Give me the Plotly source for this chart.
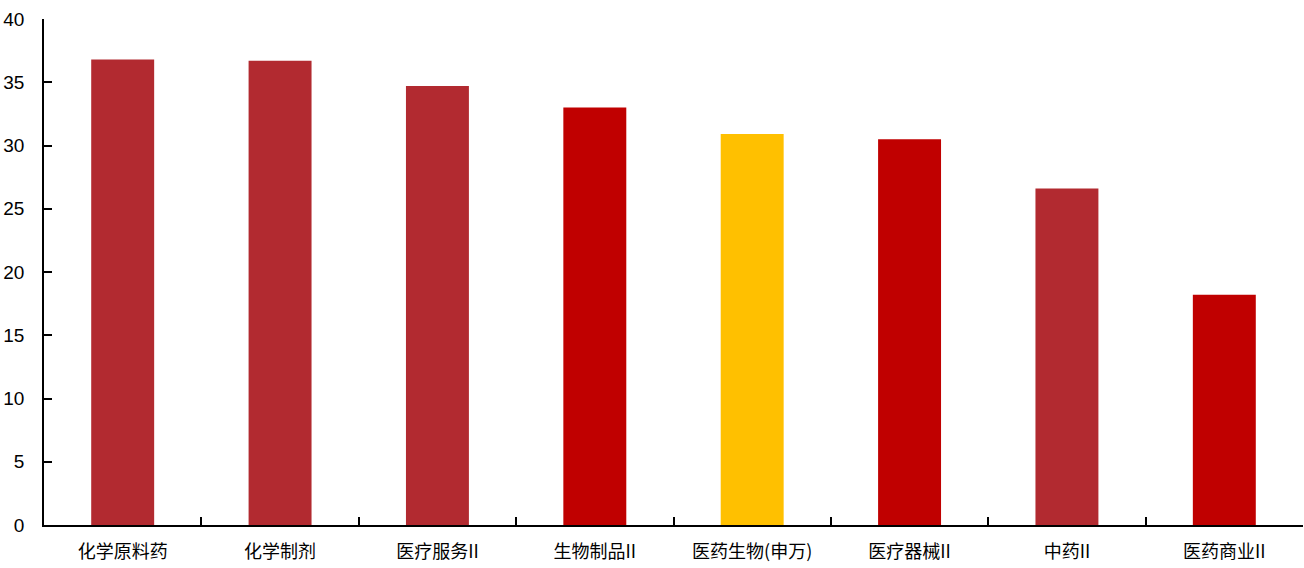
import plotly.graph_objects as go

# Sector labels and values
categories = ["化学原料药", "化学制剂", "医疗服务II", "生物制品II", "医药生物(申万)",
              "医疗器械II", "中药II", "医药商业II"]
values = [36.8, 36.7, 34.7, 33.0, 30.9, 30.5, 26.6, 18.2]
bar_colors = ["#B22A30", "#B22A30", "#B22A30", "#C00000", "#FFC000",
              "#C00000", "#B22A30", "#C00000"]
y_ticks = [0, 5, 10, 15, 20, 25, 30, 35, 40]

fig = go.Figure(
    go.Bar(
        x=categories,
        y=values,
        marker=dict(color=bar_colors, line=dict(width=0)),
        width=0.4,
    )
)

fig.update_layout(
    width=1304,
    height=568,
    margin=dict(l=44, r=1, t=19, b=43),
    plot_bgcolor="white",
    paper_bgcolor="white",
    showlegend=False,
    bargap=0.6,
)

fig.update_xaxes(
    type="category",
    showline=True,
    linecolor="black",
    linewidth=1.5,
    ticks="inside",
    tickson="boundaries",
    ticklen=8,
    tickwidth=1.5,
    tickcolor="black",
    showgrid=False,
    tickfont=dict(family="Noto Sans CJK SC", size=18, color="black"),
    ticklabelstandoff=10,
)

fig.update_yaxes(
    range=[0, 40],
    tickvals=y_ticks,
    showline=True,
    linecolor="black",
    linewidth=1.5,
    ticks="inside",
    ticklen=8,
    tickwidth=1.5,
    tickcolor="black",
    showgrid=False,
    zeroline=False,
    tickfont=dict(family="Liberation Sans", size=19, color="black"),
    ticklabelstandoff=14,
)

fig.write_html("out.html")
